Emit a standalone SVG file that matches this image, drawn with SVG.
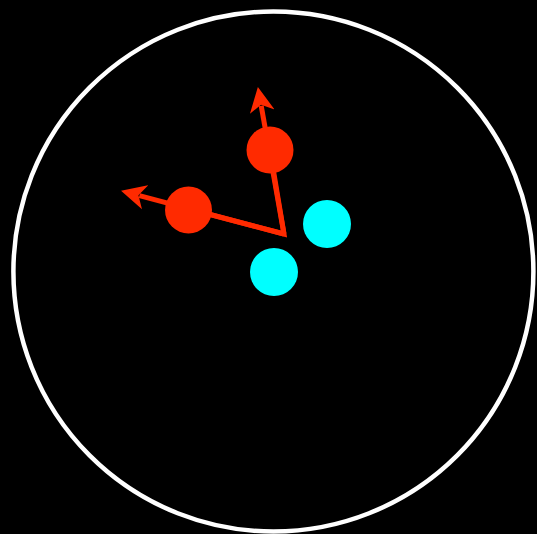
<svg xmlns="http://www.w3.org/2000/svg" width="537" height="534" viewBox="0 0 537 534">
<style>
.red{fill:#ff2a00}
.cyan{fill:#00ffff}
.conn{stroke:#ff2a00;stroke-width:5;fill:none;stroke-linejoin:miter}
</style>
<defs>
<marker id="ah" markerUnits="userSpaceOnUse" viewBox="0 -13 26 26" markerWidth="26" markerHeight="26" refX="6" refY="0" orient="auto">
<path d="M0,-12.5 L25,0 L0,12.5 L7,0 Z" fill="#ff2a00"/>
</marker>
</defs>
<rect width="537" height="534" fill="#000"/>
<circle id="boundary" cx="273.4" cy="271.5" r="260" fill="none" stroke="#fff" stroke-width="4.5"/>
<g id="connectors">
<line class="conn" x1="284" y1="234" x2="261.2" y2="105.7" marker-end="url(#ah)"/>
<line class="conn" x1="284" y1="234" x2="139.4" y2="195.6" marker-end="url(#ah)"/>
<path class="conn" d="M270,150 L284,234 L189,209"/>
</g>
<g id="red1"><circle class="red" cx="270" cy="150" r="23.5"/></g>
<g id="red2"><circle class="red" cx="188.5" cy="210" r="23.5"/></g>
<g id="cyan1"><circle class="cyan" cx="327" cy="224" r="24"/></g>
<g id="cyan2"><circle class="cyan" cx="274" cy="272" r="24"/></g>
</svg>
